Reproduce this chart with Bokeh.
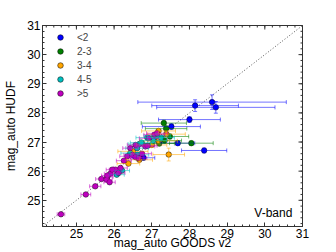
import math
from bokeh.plotting import figure
from bokeh.models import (ColumnDataSource, Whisker, TeeHead, Label,
                          Range1d, FixedTicker, Legend, LegendItem)
from bokeh.embed import file_html
from bokeh.resources import INLINE

# ---- data ----
group_names = ["<2", "2-3", "3-4", "4-5", ">5"]
group_colors = ["#0000ff", "#008000", "#ffa500", "#00bfbf", "#bf00bf"]

blue_x = [28.15, 28.60, 28.70, 28.00, 27.52, 27.69, 28.39, 26.78]
blue_y = [28.25, 28.37, 28.19, 27.77, 27.53, 26.96, 26.71, 26.46]
blue_xerr = [1.15, 1.97, 1.57, 0.82, 0.77, 0.45, 0.60, 0.30]
blue_yerr = [0.20, 0.25, 0.20, 0.10, 0.10, 0.08, 0.08, 0.08]

green_x = [28.05, 27.32, 27.38, 27.48, 27.34, 27.20]
green_y = [26.96, 27.65, 27.46, 27.19, 27.05, 26.95]
green_xerr = [0.58, 0.60, 0.55, 0.50, 0.45, 0.40]
green_yerr = [0.08, 0.10, 0.10, 0.08, 0.08, 0.08]

orange_x = [27.18, 27.39, 27.45, 27.18, 26.50, 26.67, 26.38, 27.00]
orange_y = [27.38, 27.27, 26.57, 27.04, 26.68, 26.39, 26.26, 26.90]
orange_xerr = [0.45, 0.50, 0.42, 0.50, 0.40, 0.35, 0.30, 0.40]
orange_yerr = [0.08, 0.10, 0.22, 0.08, 0.08, 0.08, 0.06, 0.08]

cyan_x = [26.88, 26.67, 27.04, 27.14, 26.43, 26.61, 26.73, 26.21, 26.07, 26.62, 27.25]
cyan_y = [27.15, 26.93, 27.05, 27.21, 26.62, 26.79, 26.98, 26.02, 25.88, 26.56, 27.15]
cyan_xerr = [0.30, 0.30, 0.35, 0.35, 0.25, 0.30, 0.30, 0.20, 0.20, 0.30, 0.35]
cyan_yerr = [0.07, 0.07, 0.07, 0.07, 0.06, 0.06, 0.07, 0.05, 0.05, 0.06, 0.07]

magenta_x = [24.59, 25.25, 25.50, 25.66, 25.82, 25.90, 26.04, 25.80, 25.88, 26.17,
             25.95, 25.82, 26.12, 26.26, 26.35, 26.48, 26.57, 26.74, 26.83, 26.65,
             26.43, 26.57, 26.92, 27.07, 27.14, 26.89]
magenta_y = [24.52, 25.20, 25.48, 25.73, 25.80, 25.91, 26.05, 25.71, 25.62, 26.11,
             26.05, 25.85, 25.94, 26.36, 26.51, 26.56, 26.48, 26.60, 26.85, 26.45,
             26.79, 26.90, 27.13, 27.25, 27.30, 26.87]
magenta_xerr = [0.10, 0.13, 0.15, 0.15, 0.15, 0.16, 0.17, 0.15, 0.15, 0.18,
                0.16, 0.15, 0.17, 0.20, 0.20, 0.22, 0.22, 0.25, 0.25, 0.22,
                0.20, 0.22, 0.25, 0.28, 0.28, 0.25]
magenta_yerr = [0.04, 0.05, 0.05, 0.05, 0.05, 0.05, 0.05, 0.05, 0.05, 0.05,
                0.05, 0.05, 0.05, 0.06, 0.06, 0.06, 0.06, 0.06, 0.06, 0.06,
                0.06, 0.06, 0.06, 0.07, 0.07, 0.06]

groups = [
    (blue_x, blue_y, blue_xerr, blue_yerr),
    (green_x, green_y, green_xerr, green_yerr),
    (orange_x, orange_y, orange_xerr, orange_yerr),
    (cyan_x, cyan_y, cyan_xerr, cyan_yerr),
    (magenta_x, magenta_y, magenta_xerr, magenta_yerr),
]

axis_min, axis_max = 24.1, 31.0
tick_vals = [25, 26, 27, 28, 29, 30, 31]
minor_vals = [round(24.2 + 0.2 * i, 2) for i in range(35)]

x_title = "mag_auto GOODS v2"
y_title = "mag_auto HUDF"
band_text = "V-band"

FONT = "Liberation Sans"
FRAME = "#333333"

p = figure(width=336, height=252, output_backend="svg", toolbar_location=None,
           x_range=Range1d(axis_min, axis_max), y_range=Range1d(axis_min, axis_max),
           min_border_left=42, min_border_right=34, min_border_top=25, min_border_bottom=25)
p.grid.visible = False
p.outline_line_color = FRAME
p.background_fill_color = "white"
p.border_fill_color = "white"

# diagonal y = x
p.line([axis_min, axis_max], [axis_min, axis_max], line_color="#555555",
       line_dash="1 2", line_width=1)

legend_items = []
for (gx, gy, gxe, gye), name, col in zip(groups, group_names, group_colors):
    src = ColumnDataSource(dict(
        x=gx, y=gy,
        xl=[a - e for a, e in zip(gx, gxe)], xu=[a + e for a, e in zip(gx, gxe)],
        yl=[a - e for a, e in zip(gy, gye)], yu=[a + e for a, e in zip(gy, gye)],
    ))
    for base, lo, hi, dim in (("y", "xl", "xu", "width"), ("x", "yl", "yu", "height")):
        w = Whisker(source=src, base=base, lower=lo, upper=hi, dimension=dim,
                    line_color=col, line_alpha=0.55, line_width=1,
                    lower_head=TeeHead(size=4, line_color=col, line_alpha=0.55),
                    upper_head=TeeHead(size=4, line_color=col, line_alpha=0.55),
                    level="glyph")
        p.add_layout(w)
    r = p.scatter("x", "y", source=src, size=5.5, fill_color=col,
                  line_color="black", line_width=0.5)
    legend_items.append(LegendItem(label=name, renderers=[r]))

legend = Legend(items=legend_items, location="top_left", border_line_alpha=0,
                background_fill_alpha=0, label_text_font=FONT,
                label_text_font_size="10px", glyph_width=26, glyph_height=14,
                label_height=14, spacing=0, margin=0, padding=5,
                label_standoff=4)
p.add_layout(legend)

# bottom / left axes: inside ticks
for ax in (p.xaxis[0], p.yaxis[0]):
    ax.ticker = FixedTicker(ticks=tick_vals, minor_ticks=minor_vals)
    ax.major_tick_in = 4
    ax.major_tick_out = 0
    ax.minor_tick_in = 2
    ax.minor_tick_out = 0
    ax.axis_line_color = FRAME
    ax.major_tick_line_color = FRAME
    ax.minor_tick_line_color = FRAME
    ax.major_label_text_font = FONT
    ax.major_label_text_font_size = "12px"
    ax.major_label_text_color = "black"
    ax.major_label_standoff = 2
    ax.axis_label_text_font = FONT
    ax.axis_label_text_font_size = "12px"
    ax.axis_label_text_font_style = "normal"
    ax.axis_label_text_color = "black"

p.xaxis[0].axis_label = x_title
p.xaxis[0].axis_label_standoff = -5
p.yaxis[0].axis_label = y_title
p.yaxis[0].axis_label_standoff = 6

# top / right inside ticks drawn as dash markers clipped at the frame edge
n_major, n_minor = len(tick_vals), len(minor_vals)
p.scatter(tick_vals, [axis_max] * n_major, marker="dash", angle=math.pi / 2,
          size=8, line_color=FRAME, line_width=1)
p.scatter(minor_vals, [axis_max] * n_minor, marker="dash", angle=math.pi / 2,
          size=4, line_color=FRAME, line_width=1)
p.scatter([axis_max] * n_major, tick_vals, marker="dash",
          size=8, line_color=FRAME, line_width=1)
p.scatter([axis_max] * n_minor, minor_vals, marker="dash",
          size=4, line_color=FRAME, line_width=1)

p.add_layout(Label(x=30.73, y=24.58, text=band_text, text_align="right",
                   text_baseline="alphabetic", text_font=FONT,
                   text_font_size="12px", text_color="black"))

open("out.html", "w").write(file_html(p, INLINE))
